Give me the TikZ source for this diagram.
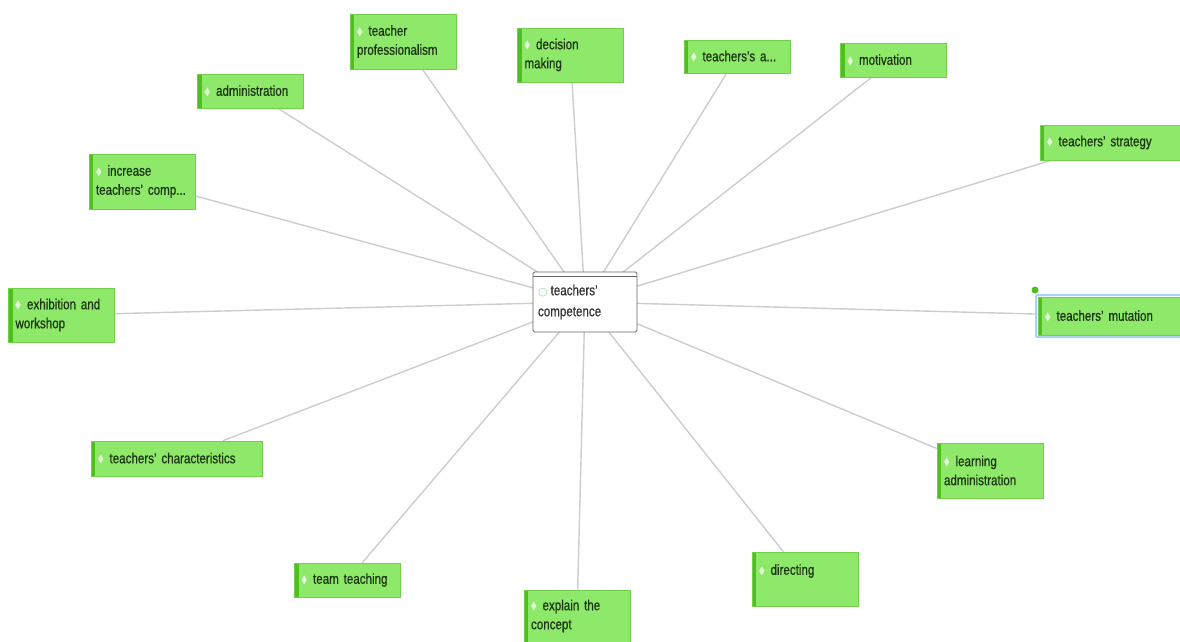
\documentclass[tikz,border=0pt]{standalone}
\usepackage{fontspec}
\setmainfont{Liberation Sans}[FakeStretch=0.8, FakeBold=0.6]
\newfontfamily\dejavu{DejaVu Sans}
\usetikzlibrary{backgrounds,calc}
\definecolor{gfill}{HTML}{8EE86A}
\definecolor{gbar}{HTML}{4FBF1F}
\definecolor{gline}{HTML}{72CF4A}
\definecolor{gtext}{HTML}{1C3410}
\definecolor{iconc}{HTML}{E2F8D6}
\definecolor{edgec}{HTML}{CDCDCD}
\definecolor{hilite}{HTML}{A9D3F5}
\newcommand\tightspace{\spaceskip=3pt plus 1pt minus 0.5pt\relax}
\newcommand\gicon{\raisebox{0.5pt}{\scalebox{0.6}[1]{\dejavu\fontsize{12}{12}\selectfont\textcolor{iconc}{◆}}}\hspace{6pt}}
\begin{document}
\begin{tikzpicture}[x=1pt,y=-1pt,
  gbox/.style={draw=gline, line width=0.8pt, fill=gfill, text=gtext,
    font=\fontsize{14.5}{19}\selectfont\tightspace, align=left, anchor=center,
    inner xsep=7pt, inner ysep=3pt,
    path picture={\fill[gbar] (path picture bounding box.north west) rectangle ([xshift=4pt]path picture bounding box.south west);}},
  edge/.style={draw=edgec, line width=1.4pt}]
\useasboundingbox (0,0) rectangle (1180,642);

\node[gbox, minimum width=106pt, minimum height=55pt, text width=92pt] (prof) at (403,41.5) {\gicon teacher\\professionalism};
\node[gbox, minimum width=105pt, minimum height=54pt, text width=92pt] (dec) at (570.5,55) {\gicon decision\\making};
\node[gbox, minimum width=106pt, minimum height=33pt, text width=92pt] (ta) at (737,56.5) {\gicon teachers's a...};
\node[gbox, minimum width=105pt, minimum height=34pt, text width=92pt] (mot) at (893.5,60) {\gicon motivation};
\node[gbox, minimum width=140pt, minimum height=35pt, text width=126pt] (str) at (1110,142.5) {\gicon teachers' strategy};
\draw[hilite, line width=2pt, rounded corners=1pt] (1036,295) rectangle (1182,337);
\node[gbox, minimum width=142pt, minimum height=38pt, text width=128pt] (mut) at (1109,316) {\gicon teachers' mutation};
\fill[gbar] (1035,290) circle (3.5pt);
\node[gbox, minimum width=106pt, minimum height=55pt, text width=92pt] (learn) at (990,470.5) {\gicon learning\\administration};
\node[gbox, minimum width=106pt, minimum height=54pt, text width=92pt] (dir) at (805,579) {\gicon directing\\[0pt]\mbox{}};
\node[gbox, minimum width=106pt, minimum height=52pt, text width=92pt] (expl) at (577,616) {\gicon explain the\\concept};
\node[gbox, minimum width=105pt, minimum height=34pt, text width=92pt] (team) at (347.5,580) {\gicon team teaching};
\node[gbox, minimum width=171pt, minimum height=35pt, text width=157pt] (char) at (176.5,458.5) {\gicon teachers' characteristics};
\node[gbox, minimum width=105pt, minimum height=54pt, text width=92pt] (exh) at (61.5,315) {\gicon exhibition and\\workshop};
\node[gbox, minimum width=106pt, minimum height=55pt, text width=92pt] (inc) at (142,181.5) {\gicon increase\\teachers' comp...};
\node[gbox, minimum width=105pt, minimum height=34pt, text width=92pt] (adm) at (250.5,91) {\gicon administration};

\node[draw=gray!80!black, line width=0.9pt, fill=white, rounded corners=1.5pt,
  minimum width=104pt, minimum height=60pt, text width=94pt, align=left,
  font=\fontsize{14.5}{21}\selectfont, text=black!80, inner ysep=4pt] (c) at (585,302)
  {{\dejavu\fontsize{11}{11}\selectfont\textcolor{green!40!gray!55}{○}}\hspace{3pt}teachers'\\competence};
\draw[gray!80!black, line width=0.9pt] ($(c.north west)+(0,5)$) -- ($(c.north east)+(0,5)$);

\begin{scope}[on background layer]
\foreach \n in {prof,dec,ta,mot,str,mut,learn,dir,expl,team,char,exh,inc,adm}
  \draw[edge] (c.center) -- (\n);
\end{scope}
\end{tikzpicture}
\end{document}
